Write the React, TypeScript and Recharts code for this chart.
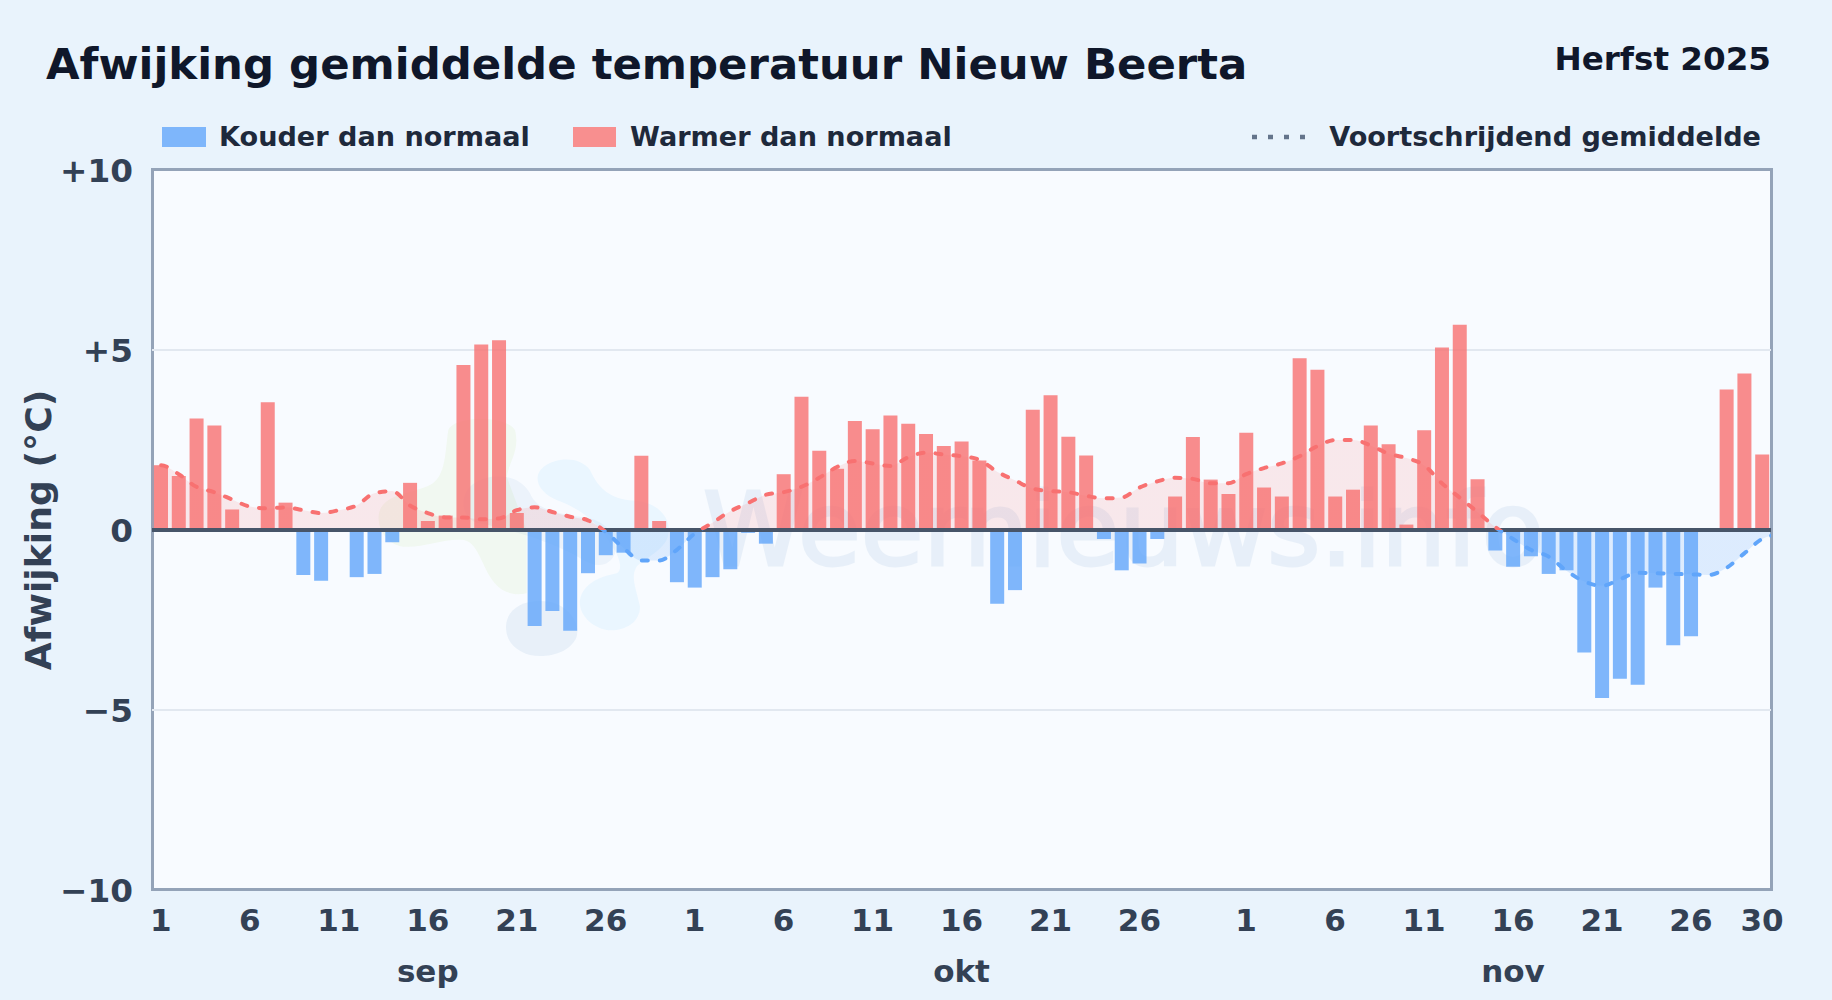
import { Area, Bar, CartesianGrid, ComposedChart, Line, ReferenceLine, XAxis, YAxis } from "recharts";

const sepDays = 30;
const octDays = 31;

// afwijking per dag, sep t/m nov
const deviation = [
  1.8, 1.5, 3.1, 2.9, 0.57, 0, 3.55, 0.76, -1.25, -1.41, 0, -1.31, -1.22, -0.34, 1.31, 0.25, 0.4, 4.58, 5.15, 5.27,
  0.47, -2.67, -2.25, -2.8, -1.2, -0.7, -0.63, 2.06, 0.25, -1.45,
  -1.6, -1.31, -1.09, -0.08, -0.38, 1.55, 3.7, 2.2, 1.7, 3.03, 2.8, 3.18, 2.95, 2.67, 2.33, 2.46, 1.93, -2.05, -1.67, 3.34,
  3.74, 2.59, 2.07, -0.25, -1.12, -0.93, -0.25, 0.93, 2.58, 1.4, 1.0,
  2.7, 1.18, 0.93, 4.77, 4.45, 0.93, 1.12, 2.9, 2.38, 0.15, 2.77, 5.07, 5.7, 1.41, -0.57, -1.02, -0.73, -1.22, -1.12, -3.4,
  -4.67, -4.13, -4.3, -1.6, -3.2, -2.95, 0, 3.9, 4.35, 2.1,
];

// voortschrijdend gemiddelde per dag
const movingAvg = [
  1.8, 1.55, 1.2, 1.05, 0.85, 0.65, 0.6, 0.63, 0.55, 0.47, 0.55, 0.68, 1.02, 1.08, 0.68, 0.47, 0.35, 0.35, 0.3, 0.32,
  0.55, 0.63, 0.5, 0.37, 0.27, -0.05, -0.5, -0.85, -0.85, -0.55,
  -0.1, 0.2, 0.52, 0.75, 0.98, 1.05, 1.2, 1.45, 1.75, 1.92, 1.85, 1.78, 2.02, 2.15, 2.1, 2.05, 1.95, 1.62, 1.38, 1.15,
  1.08, 1.05, 0.95, 0.88, 0.9, 1.18, 1.35, 1.45, 1.42, 1.3, 1.3,
  1.55, 1.72, 1.85, 2.05, 2.33, 2.5, 2.5, 2.35, 2.12, 2.0, 1.8, 1.3, 0.9, 0.5, 0.08, -0.25, -0.55, -0.74, -1.13, -1.43,
  -1.55, -1.37, -1.19, -1.2, -1.22, -1.23, -1.25, -1.05, -0.65, -0.25,
];
// the curve runs on to the plot edges, one extra row each side gets clipped there
const avgBefore = 1.8;
const avgAfter = -0.12;

const yTicks = [-10, -5, 0, 5, 10];
const dayTicks = [1, 6, 11, 16, 21, 26, 31, 36, 41, 46, 51, 56, 62, 67, 72, 77, 82, 87, 91];
const monthTicks = [16, 46, 77];
const monthNames: Record<number, string> = { 16: "sep", 46: "okt", 77: "nov" };

const rows = [
  { day: 0, avg: avgBefore },
  ...deviation.map((v, i) => ({
    day: i + 1,
    cold: v < 0 ? v : null,
    warm: v > 0 ? v : null,
    avg: movingAvg[i],
  })),
  { day: 92, avg: avgAfter },
];

const maxAvg = Math.max(...movingAvg, avgBefore);
const minAvg = Math.min(...movingAvg, avgAfter);
const zeroAt = maxAvg / (maxAvg - minAvg);

const RED = "#f87171";
const BLUE = "#60a5fa";
const FONT = "'DejaVu Sans', sans-serif";

function dayLabel(day: number) {
  if (day > sepDays + octDays) return String(day - sepDays - octDays);
  if (day > sepDays) return String(day - sepDays);
  return String(day);
}

function yLabel(v: number) {
  if (v > 0) return `+${v}`;
  if (v < 0) return `\u2212${Math.abs(v)}`;
  return "0";
}

function Watermark() {
  return (
    <svg width={1832} height={1000} style={{ position: "absolute", left: 0, top: 0 }}>
      <g transform="translate(370,410) scale(0.3333)">
        <path
          d="M235,60 C250,20 400,10 435,60 C450,120 420,150 410,200 L470,360 L470,550 C420,560 385,540 360,500 C335,460 320,395 280,390 C220,385 160,415 100,410 C40,400 15,340 30,300 C50,250 130,250 180,225 C230,200 225,120 235,60 Z"
          fill="#84cc16"
          opacity={0.06}
        />
        <path
          d="M300,230 C340,190 440,180 480,250 C500,300 560,310 630,320 C700,325 745,370 735,430 C720,470 680,475 640,450 C560,400 430,360 330,340 C270,330 270,260 300,230 Z"
          fill="#1d64b0"
          opacity={0.05}
        />
        <path
          d="M408,650 C410,590 470,565 540,575 C600,590 630,640 620,680 C600,730 530,745 480,735 C430,720 408,690 408,650 Z"
          fill="#1d64b0"
          opacity={0.07}
        />
        <path
          d="M503,200 C510,150 620,125 660,180 C685,235 720,270 800,272 C870,280 905,330 895,375 C885,420 830,440 800,470 C780,500 800,540 810,590 C810,640 760,665 710,660 C660,650 625,610 630,570 C640,520 690,500 740,490 C760,480 750,440 720,400 C690,340 620,290 560,270 C525,255 500,230 503,200 Z"
          fill="#38bdf8"
          opacity={0.07}
        />
      </g>
      <g opacity={0.07}>
        <text x={703} y={565} fontFamily={FONT} fontSize={102} fill="#1d64b0" stroke="#1d64b0" strokeWidth={3}>
          Weernieuws.info
        </text>
      </g>
    </svg>
  );
}

export default function App() {
  return (
    <div
      style={{
        position: "fixed",
        left: 0,
        top: 0,
        width: 1832,
        height: 1000,
        overflow: "hidden",
        background: "#e9f3fc",
        fontFamily: FONT,
      }}
    >
      <div
        style={{
          position: "absolute",
          left: 151,
          top: 168,
          width: 1622,
          height: 723,
          boxSizing: "border-box",
          background: "#f8fbff",
          border: "3px solid #94a3b8",
        }}
      />
      <Watermark />

      <div style={{ position: "absolute", left: 46, top: 39, fontSize: 43.4, fontWeight: 700, color: "#0f172a", whiteSpace: "nowrap" }}>
        Afwijking gemiddelde temperatuur Nieuw Beerta
      </div>
      <div style={{ position: "absolute", right: 61, top: 40, fontSize: 32.6, fontWeight: 700, color: "#0f172a", whiteSpace: "nowrap" }}>
        Herfst 2025
      </div>

      <div style={{ position: "absolute", left: 162, top: 127, width: 44, height: 20, background: "#7eb6fb" }} />
      <div style={{ position: "absolute", left: 219, top: 121, fontSize: 27.1, fontWeight: 700, color: "#1e293b", whiteSpace: "nowrap" }}>
        Kouder dan normaal
      </div>
      <div style={{ position: "absolute", left: 573, top: 127, width: 43, height: 20, background: "#f88f8f" }} />
      <div style={{ position: "absolute", left: 630, top: 121, fontSize: 27.1, fontWeight: 700, color: "#1e293b", whiteSpace: "nowrap" }}>
        Warmer dan normaal
      </div>
      <svg width={64} height={8} style={{ position: "absolute", left: 1252, top: 133 }}>
        <line x1={0} y1={4} x2={64} y2={4} stroke="#64748b" strokeWidth={4.5} strokeDasharray="5 11" />
      </svg>
      <div style={{ position: "absolute", right: 71, top: 121, fontSize: 27.1, fontWeight: 700, color: "#1e293b", whiteSpace: "nowrap" }}>
        Voortschrijdend gemiddelde
      </div>

      <div
        style={{
          position: "absolute",
          left: 38,
          top: 530,
          fontSize: 36.2,
          fontWeight: 700,
          color: "#334155",
          whiteSpace: "nowrap",
          transform: "translate(-50%, -50%) rotate(-90deg)",
        }}
      >
        Afwijking (°C)
      </div>

      <div style={{ position: "absolute", left: 0, top: 0 }}>
        <ComposedChart width={1832} height={1000} data={rows} margin={{ top: 170, right: 61, bottom: 0, left: 0 }}>
          <defs>
            <linearGradient id="avgFill" x1="0" y1="0" x2="0" y2="1">
              <stop offset={zeroAt} stopColor={RED} stopOpacity={0.14} />
              <stop offset={zeroAt} stopColor={BLUE} stopOpacity={0.18} />
            </linearGradient>
            <linearGradient id="avgStroke" x1="0" y1="0" x2="0" y2="1">
              <stop offset={zeroAt} stopColor={RED} />
              <stop offset={zeroAt} stopColor={BLUE} />
            </linearGradient>
          </defs>
          <CartesianGrid horizontal vertical={false} horizontalValues={[-5, 5]} stroke="#e2e8f0" strokeWidth={2} />
          <XAxis
            dataKey="day"
            type="number"
            domain={[0.5, 91.5]}
            allowDataOverflow
            ticks={dayTicks}
            interval={0}
            tickFormatter={dayLabel}
            tickLine={false}
            axisLine={false}
            height={48}
            tickMargin={13}
            tick={{ fontSize: 31, fontWeight: 700, fill: "#334155", fontFamily: FONT }}
          />
          <XAxis
            xAxisId="month"
            dataKey="day"
            type="number"
            domain={[0.5, 91.5]}
            allowDataOverflow
            ticks={monthTicks}
            interval={0}
            tickFormatter={(d: number) => monthNames[d]}
            tickLine={false}
            axisLine={false}
            height={62}
            tickMargin={16}
            tick={{ fontSize: 31, fontWeight: 700, fill: "#334155", fontFamily: FONT }}
          />
          <YAxis
            type="number"
            domain={[-10, 10]}
            ticks={yTicks}
            interval={0}
            tickFormatter={yLabel}
            tickLine={false}
            axisLine={false}
            width={152}
            tickMargin={13}
            tick={{ fontSize: 32.7, fontWeight: 700, fill: "#334155", fontFamily: FONT }}
          />
          <Area
            type="monotone"
            dataKey="avg"
            baseValue={0}
            stroke="none"
            fill="url(#avgFill)"
            fillOpacity={1}
            dot={false}
            activeDot={false}
            isAnimationActive={false}
          />
          <Bar dataKey="cold" stackId="dev" barSize={14} fill={BLUE} fillOpacity={0.8} isAnimationActive={false} />
          <Bar dataKey="warm" stackId="dev" barSize={14} fill={RED} fillOpacity={0.8} isAnimationActive={false} />
          <ReferenceLine y={0} stroke="#475569" strokeWidth={4} />
          <Line
            type="monotone"
            dataKey="avg"
            stroke="url(#avgStroke)"
            strokeWidth={4}
            strokeDasharray="6 12"
            strokeLinecap="round"
            dot={false}
            activeDot={false}
            isAnimationActive={false}
          />
        </ComposedChart>
      </div>
    </div>
  );
}
